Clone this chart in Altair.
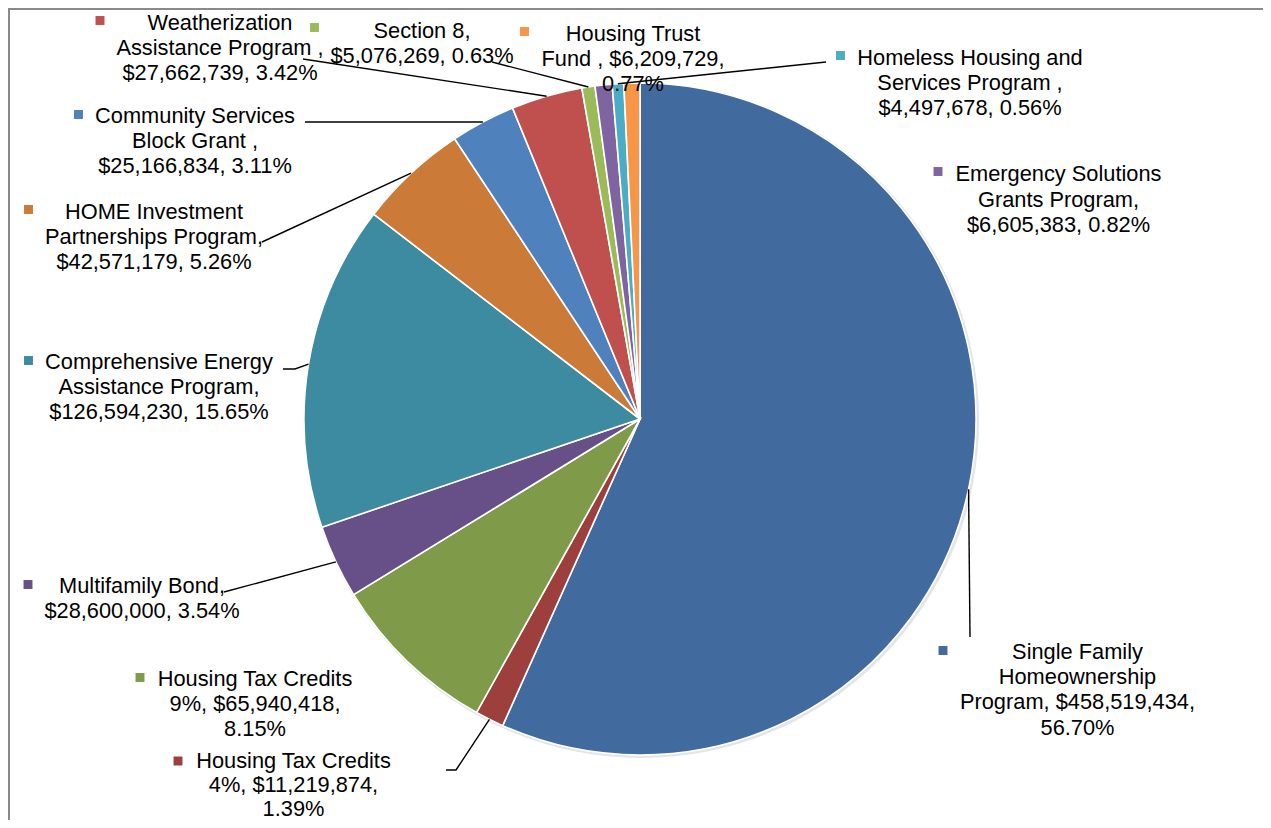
import math
import altair as alt
import pandas as pd

# ---------------- data ----------------
names = [
    "Single Family Homeownership Program",
    "Housing Tax Credits 4%",
    "Housing Tax Credits 9%",
    "Multifamily Bond",
    "Comprehensive Energy Assistance Program",
    "HOME Investment Partnerships Program",
    "Community Services Block Grant",
    "Weatherization Assistance Program",
    "Section 8",
    "Emergency Solutions Grants Program",
    "Homeless Housing and Services Program",
    "Housing Trust Fund",
]
values = [458519434, 11219874, 65940418, 28600000, 126594230, 42571179,
          25166834, 27662739, 5076269, 6605383, 4497678, 6209729]
percents = [56.70, 1.39, 8.15, 3.54, 15.65, 5.26, 3.11, 3.42, 0.63, 0.82, 0.56, 0.77]
label_lines = [
    ["Single Family", "Homeownership", "Program, $458,519,434,", "56.70%"],
    ["Housing Tax Credits", "4%, $11,219,874,", "1.39%"],
    ["Housing Tax Credits", "9%, $65,940,418,", "8.15%"],
    ["Multifamily Bond,", "$28,600,000, 3.54%"],
    ["Comprehensive Energy", "Assistance Program,", "$126,594,230, 15.65%"],
    ["HOME Investment", "Partnerships Program,", "$42,571,179, 5.26%"],
    ["Community Services", "Block Grant ,", "$25,166,834, 3.11%"],
    ["Weatherization", "Assistance Program ,", "$27,662,739, 3.42%"],
    ["Section 8,", "$5,076,269, 0.63%"],
    ["Emergency Solutions", "Grants Program,", "$6,605,383, 0.82%"],
    ["Homeless Housing and", "Services Program ,", "$4,497,678, 0.56%"],
    ["Housing Trust", "Fund , $6,209,729,", "0.77%"],
]
colors = ["#416A9E", "#9C3F3D", "#7F9A48", "#675087", "#3D8BA1", "#CB7A37",
          "#4F81BD", "#C0504D", "#9BBB59", "#8064A2", "#4BACC6", "#F79646"]

# ---------------- layout (page pixels) ----------------
W, H, OFF = 1255, 812, 8
CX, CY, R = 640, 419, 336
FS, LH = 21.8, 25.3
# label block: centre x, middle of first line y, marker x, marker y, line step
label_pos = [
    (1077.5, 651, 943, 650.5, LH),
    (293.5, 760, 178, 761, 24.0),
    (255, 678, 140, 677.5, LH),
    (142, 585, 28, 584.5, LH),
    (159, 361, 28.5, 360.5, LH),
    (154, 211, 28.5, 209.5, LH),
    (195, 115, 78.5, 114.5, LH),
    (220, 22, 100, 20.5, LH),
    (422, 30, 314.5, 27.5, LH),
    (1058.5, 173.5, 938, 171.5, LH),
    (970, 57, 840.5, 55.5, LH),
    (633, 33, 524.5, 31.5, LH),
]
# leader line ends on the label side (None = no leader)
leader_ends = [
    [(970, 637)],
    [(446, 770), (456, 770)],
    None,
    [(224, 592)],
    [(283, 369), (295, 369)],
    [(262, 242)],
    [(305, 122)],
    [(303, 59)],
    [(492, 62)],
    None,
    [(826, 62)],
    None,
]

# ---------------- tables ----------------
pie_df = pd.DataFrame({"name": names, "value": values, "idx": list(range(len(names)))})

total = float(sum(values))
text_rows, marker_rows, lead_rows = [], [], []
cum = 0.0
for i, name in enumerate(names):
    mid = (cum + values[i] / 2.0) / total * 2 * math.pi
    cum += values[i]
    cx, y1, mx, my, step = label_pos[i]
    for k, line in enumerate(label_lines[i]):
        text_rows.append({"x": cx - OFF, "y": y1 + k * step + 7.8 - OFF, "t": line})
    marker_rows.append({"x": mx - OFF, "y": my - OFF, "name": name})
    if leader_ends[i]:
        pts = list(leader_ends[i]) + [(CX + R * math.sin(mid), CY - R * math.cos(mid))]
        for o, (px, py) in enumerate(pts):
            lead_rows.append({"g": i, "o": o, "x": px - OFF, "y": py - OFF})

text_df = pd.DataFrame(text_rows)
marker_df = pd.DataFrame(marker_rows)
lead_df = pd.DataFrame(lead_rows)

xs = alt.Scale(domain=[0, W], nice=False, zero=False)
ys = alt.Scale(domain=[0, H], nice=False, zero=False, reverse=True)
cscale = alt.Scale(domain=names, range=colors)

one = pd.DataFrame({"a": [0]})

shadow = alt.Chart(one).mark_arc(
    theta=0, theta2=2 * math.pi, outerRadius=R + 1.5, color="#d4d4d4", opacity=0.6
).encode(x=alt.value(CX - OFF + 1.5), y=alt.value(CY - OFF + 1.5))

pie = alt.Chart(pie_df).mark_arc(outerRadius=R, stroke="white", strokeWidth=1.6).encode(
    theta=alt.Theta("value:Q", stack=True),
    color=alt.Color("name:N", scale=cscale, legend=None),
    order=alt.Order("idx:Q"),
    x=alt.value(CX - OFF),
    y=alt.value(CY - OFF),
)

leaders = alt.Chart(lead_df).mark_line(color="black", strokeWidth=1.4).encode(
    x=alt.X("x:Q", scale=xs, axis=None),
    y=alt.Y("y:Q", scale=ys, axis=None),
    detail="g:N",
    order="o:Q",
)

texts = alt.Chart(text_df).mark_text(
    font="Liberation Sans", fontSize=FS, align="center", baseline="alphabetic", color="black"
).encode(
    x=alt.X("x:Q", scale=xs, axis=None),
    y=alt.Y("y:Q", scale=ys, axis=None),
    text="t:N",
)

markers = alt.Chart(marker_df).mark_square(size=80, opacity=1).encode(
    x=alt.X("x:Q", scale=xs, axis=None),
    y=alt.Y("y:Q", scale=ys, axis=None),
    color=alt.Color("name:N", scale=cscale, legend=None),
)

border_left = alt.Chart(one).mark_rule(color="#8a8a8a", strokeWidth=2).encode(
    x=alt.value(1), y=alt.value(0), y2=alt.value(H)
)
border_top = alt.Chart(one).mark_rule(color="#8a8a8a", strokeWidth=2).encode(
    y=alt.value(1), x=alt.value(0), x2=alt.value(W)
)

chart = alt.layer(
    shadow, pie, leaders, texts, markers, border_left, border_top
).properties(
    width=W, height=H, padding=0, autosize=alt.AutoSizeParams(type="none"), background="white"
).configure_view(strokeWidth=0)

chart.save("out.html", embed_options={"renderer": "svg", "actions": False})
